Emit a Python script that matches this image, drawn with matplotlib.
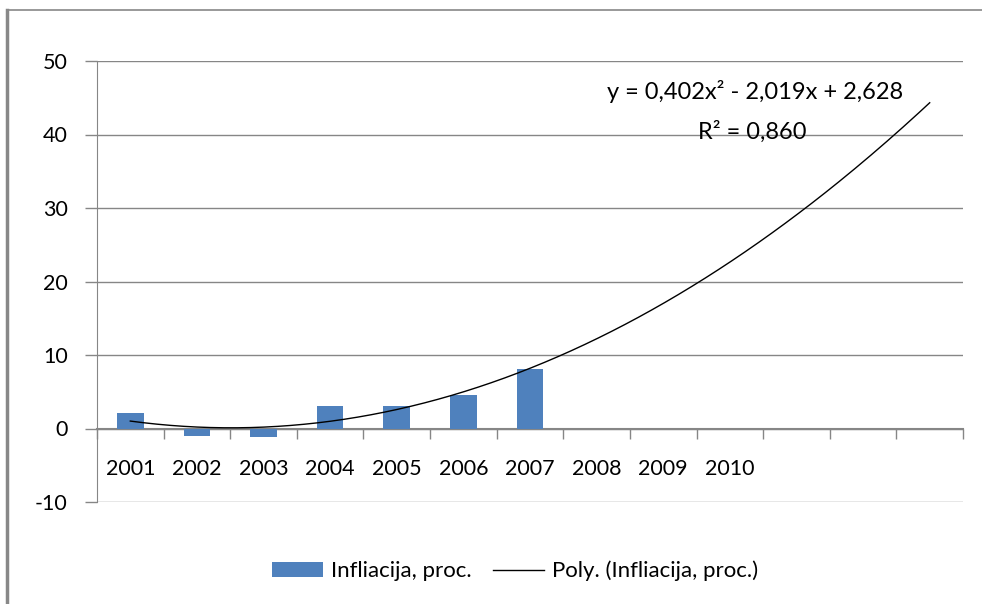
import numpy as np
import matplotlib
matplotlib.use("Agg")
from matplotlib import pyplot as plt
from matplotlib.lines import Line2D

plt.rcParams['font.family'] = ['Lato', 'DejaVu Sans']
plt.rcParams['axes.unicode_minus'] = False

# Data
years = ['2001', '2002', '2003', '2004', '2005', '2006', '2007', '2008', '2009', '2010', '', '', '']
inflation = [2.1, -1.0, -1.1, 3.1, 3.1, 4.6, 8.1]
trend_coef = [0.402, -2.019, 2.628]   # poly trend, x = 1..13
trend_label = "y = 0,402x\u00b2 - 2,019x + 2,628"
r2_label = "R\u00b2 = 0,860"
yticks = [-10, 0, 10, 20, 30, 40, 50]

BAR_COLOR = '#4F81BD'
GRID_COLOR = '#868686'
FS = 15.5

fig = plt.figure(figsize=(9.82, 6.04), dpi=100)
ax = fig.add_axes([97 / 982, 1 - 502 / 604, (963 - 97) / 982, (502 - 61) / 604])

pos = np.arange(len(years))
bars = ax.bar(pos[:len(inflation)], inflation, width=0.4, color=BAR_COLOR, zorder=3,
              label='Infliacija, proc.')

# polynomial trend line (Excel x runs from 1)
xs = np.linspace(1, len(years), 300)
trend, = ax.plot(xs - 1, np.polyval(trend_coef, xs), color='black', lw=1.0, zorder=4,
                 label='Poly. (Infliacija, proc.)')

ax.set_xlim(-0.5, len(years) - 0.5)
ax.set_ylim(-10, 50)
ax.set_yticks(yticks)
ax.yaxis.grid(True, color=GRID_COLOR, lw=1.0, zorder=0)
ax.tick_params(axis='y', length=9, width=1.0, color=GRID_COLOR, pad=12, labelsize=FS)

# category axis crossing at zero
ax.spines['bottom'].set_position(('data', 0))
ax.spines['bottom'].set_color(GRID_COLOR)
ax.spines['bottom'].set_linewidth(1.5)
ax.spines['left'].set_color(GRID_COLOR)
ax.spines['top'].set_visible(False)
ax.spines['right'].set_visible(False)
ax.set_xticks(np.arange(-0.5, len(years), 1.0))
ax.set_xticklabels([])
ax.tick_params(axis='x', which='major', length=7, width=1.0, color=GRID_COLOR, direction='out')
ax.set_xticks(pos, minor=True)
ax.set_xticklabels(years, minor=True)
ax.tick_params(axis='x', which='minor', length=0, pad=22, labelsize=FS)

# equation of trend line
ax.text(0.760, 0.930, trend_label, transform=ax.transAxes, ha='center', va='center', fontsize=17)
ax.text(0.757, 0.839, r2_label, transform=ax.transAxes, ha='center', va='center', fontsize=17)

fig.legend(handles=[bars, trend], loc='center', bbox_to_anchor=(515 / 982, 1 - 571 / 604),
           ncol=2, frameon=False, fontsize=16, handlelength=2.3, handleheight=0.66,
           handletextpad=0.35, columnspacing=1.0)

# chart frame
fig.add_artist(Line2D([7 / 982, 7 / 982], [0, 1 - 10 / 604], color='#888888', lw=2.5))
fig.add_artist(Line2D([7 / 982, 1], [1 - 10 / 604, 1 - 10 / 604], color='#888888', lw=1.2))

fig.savefig('out.png', dpi=100)
